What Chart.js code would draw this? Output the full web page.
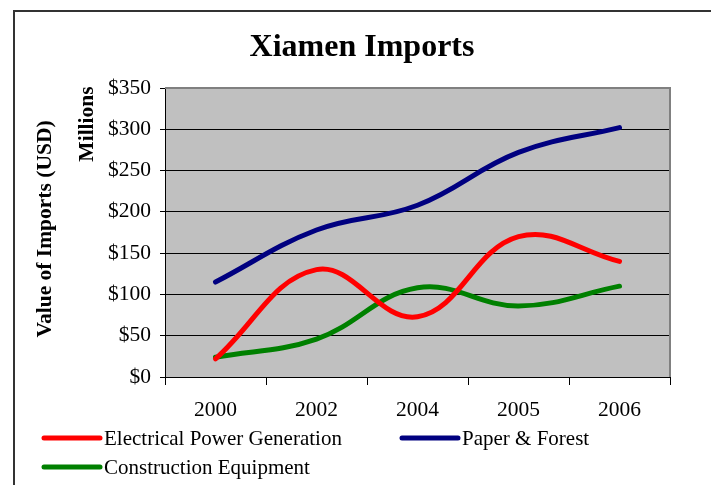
<!DOCTYPE html>
<html><head><meta charset="utf-8">
<script src="https://cdn.jsdelivr.net/npm/chart.js@4"></script>
<style>html,body{margin:0;padding:0;background:#fff;overflow:hidden}#wrap{width:711px;height:485px}</style>
</head><body><div id="wrap"><canvas id="c" width="711" height="485"></canvas></div>
<script>
const categories = ['2000','2002','2004','2005','2006'];
const electrical = [22, 130, 73, 170, 140];
const paper = [115, 178, 208, 272, 302];
const construction = [24, 46, 108, 86, 110];
const seriesNames = ['Electrical Power Generation','Paper & Forest','Construction Equipment'];
const yTicks = [0,50,100,150,200,250,300,350];

const SERIF = '"Liberation Serif","Times New Roman",serif';

const decor = {
  id:'decor',
  beforeDraw(chart){
    const {ctx, chartArea:a} = chart;
    ctx.save();
    ctx.fillStyle = '#c0c0c0';
    ctx.fillRect(a.left, a.top, a.right-a.left, a.bottom-a.top);
    ctx.restore();
  },
  afterDraw(chart){
    const {ctx, chartArea:a} = chart;
    ctx.save();
    ctx.strokeStyle = '#808080'; ctx.lineWidth = 2;
    ctx.beginPath(); ctx.moveTo(a.left, a.top); ctx.lineTo(a.right, a.top); ctx.lineTo(a.right, a.bottom); ctx.stroke();
    ctx.strokeStyle = '#333'; ctx.lineWidth = 2;
    ctx.strokeRect(14, 11, 800, 600);
    ctx.fillStyle = '#000'; ctx.textAlign='center'; ctx.textBaseline='middle';
    ctx.font = 'bold 32px ' + SERIF;
    ctx.fillText('Xiamen Imports', 362, 48);
    ctx.font = 'bold 21.5px ' + SERIF;
    ctx.save(); ctx.translate(45, 229); ctx.rotate(-Math.PI/2); ctx.fillText('Value of Imports (USD)', 0, 0); ctx.restore();
    ctx.save(); ctx.translate(87, 124); ctx.rotate(-Math.PI/2); ctx.fillText('Millions', 0, 0); ctx.restore();
    const pos = [[42,438],[400,438],[42,467]];
    ctx.font = '21px ' + SERIF; ctx.textAlign='left';
    chart.data.datasets.forEach((ds,i)=>{
      const [x,y] = pos[i];
      ctx.strokeStyle = ds.borderColor; ctx.lineWidth = 5; ctx.lineCap='round';
      ctx.beginPath(); ctx.moveTo(x+2,y); ctx.lineTo(x+58,y); ctx.stroke();
      ctx.fillStyle = '#000';
      ctx.fillText(ds.label, x+62, y+1);
    });
    ctx.restore();
  }
};

new Chart(document.getElementById('c'), {
  type:'line',
  data:{
    labels: categories,
    datasets:[
      {label:seriesNames[0], data:electrical, borderColor:'#ff0000'},
      {label:seriesNames[1], data:paper, borderColor:'#000080'},
      {label:seriesNames[2], data:construction, borderColor:'#008000'}
    ].map(d=>Object.assign(d,{borderWidth:5, pointRadius:0, tension:0.4, fill:false, borderCapStyle:'round', backgroundColor:d.borderColor}))
  },
  options:{
    responsive:false, animation:false,
    layout:{padding:{top:88, right:41, bottom:0, left:0}},
    plugins:{legend:{display:false}, title:{display:false}, tooltip:{enabled:false}},
    scales:{
      x:{
        offset:true,
        grid:{offset:true, drawOnChartArea:false, drawTicks:true, tickLength:8, color:'#000', lineWidth:1},
        border:{display:true, color:'#000', width:1},
        ticks:{color:'#000', font:{family:SERIF, size:21.5}, padding:12, maxRotation:0},
        afterFit(s){ s.height = 108; }
      },
      y:{
        min:0, max:350,
        afterBuildTicks(s){ s.ticks = yTicks.map(v=>({value:v})); },
        grid:{color:'#000', lineWidth:1, tickLength:5, drawTicks:true},
        border:{display:true, color:'#000', width:1},
        ticks:{color:'#000', font:{family:SERIF, size:21.5}, padding:9, callback:v=>'$'+v},
        afterFit(s){ s.width = 165; }
      }
    }
  },
  plugins:[decor]
});
</script></body></html>
